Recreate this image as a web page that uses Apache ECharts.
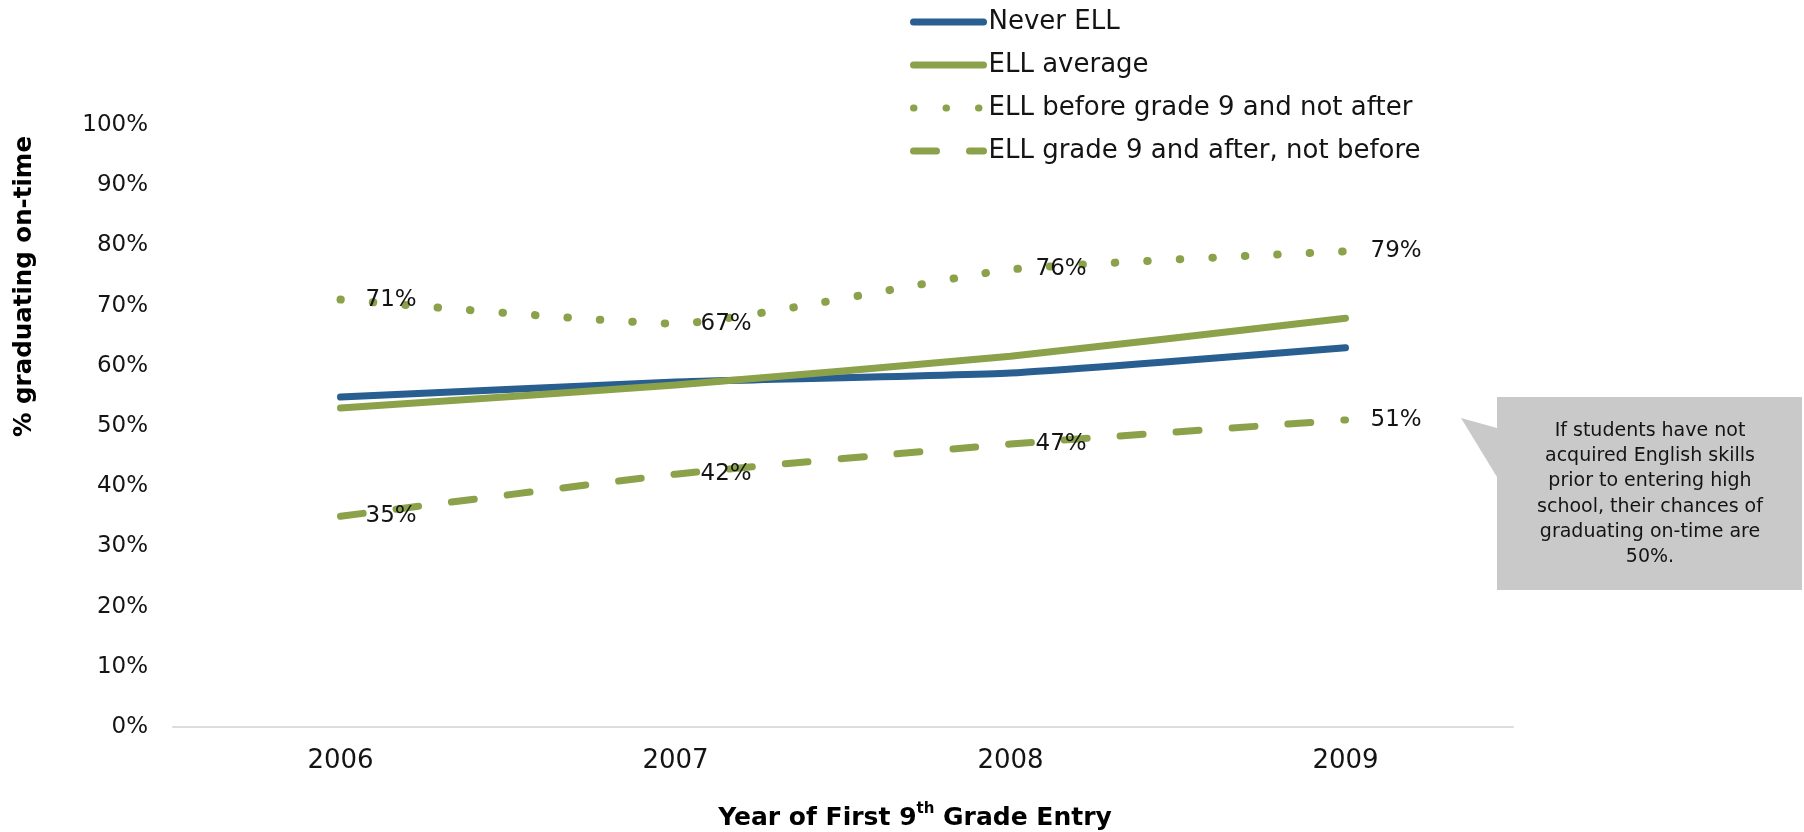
<!DOCTYPE html>
<html>
<head>
<meta charset="utf-8">
<title>On-time graduation by ELL status</title>
<script src="https://cdn.jsdelivr.net/npm/echarts@6/dist/echarts.min.js"></script>
<style>
  html, body { margin: 0; padding: 0; background: #ffffff; }
  #chart { width: 1804px; height: 832px; }
</style>
</head>
<body>
<div id="chart"></div>
<script>
// Cohort: year of first 9th grade entry
const years = ['2006', '2007', '2008', '2009'];

// % graduating on-time
const neverELL = [54.8, 57.3, 58.8, 63.0];
const ellAverage = [53.0, 56.8, 61.6, 67.9];
const ellBeforeGrade9 = [71, 67, 76, 79];
const ellGrade9AndAfter = [35, 42, 47, 51];

const seriesNames = [
  'Never ELL',
  'ELL average',
  'ELL before grade 9 and not after',
  'ELL grade 9 and after, not before'
];

const calloutText = [
  'If students have not',
  'acquired English skills',
  'prior to entering high',
  'school, their chances of',
  'graduating on-time are',
  '50%.'
];

const FONT = '"DejaVu Sans", "Liberation Sans", sans-serif';
const BLUE = '#295e91';
const GREEN = '#8ba24b';
const INK = '#141414';

const chart = echarts.init(document.getElementById('chart'), null, { renderer: 'canvas' });

const valueLabel = {
  show: true,
  position: 'right',
  distance: 25,
  formatter: '{c}%',
  color: INK,
  fontFamily: FONT,
  fontSize: 23
};

function lineSeries(name, data, style, label) {
  return {
    name: name,
    type: 'line',
    data: data,
    smooth: 0.15,
    symbol: 'circle',
    symbolSize: 0,
    itemStyle: { color: style.color },
    lineStyle: Object.assign({ cap: 'round', join: 'round' }, style),
    label: label || { show: false },
    emphasis: { disabled: true },
    animation: false
  };
}

chart.setOption({
  backgroundColor: '#ffffff',
  textStyle: { fontFamily: FONT },
  grid: { left: 173, right: 291, top: 125, bottom: 105, containLabel: false },
  legend: {
    orient: 'vertical',
    left: 910,
    top: 9,
    padding: 0,
    itemWidth: 70,
    itemHeight: 26,
    itemGap: 17,
    data: seriesNames,
    selectedMode: false,
    itemStyle: { color: 'rgba(0,0,0,0)', borderWidth: 0, opacity: 0 },
    lineStyle: { width: 7 },
    textStyle: { color: INK, fontFamily: FONT, fontSize: 26, lineHeight: 26 }
  },
  xAxis: {
    type: 'category',
    data: years,
    boundaryGap: true,
    axisLine: { show: true, lineStyle: { color: '#dcdcdc', width: 2 } },
    axisTick: { show: false },
    axisLabel: { color: INK, fontFamily: FONT, fontSize: 26, margin: 21 },
    splitLine: { show: false }
  },
  yAxis: {
    type: 'value',
    min: 0,
    max: 100,
    interval: 10,
    axisLine: { show: false },
    axisTick: { show: false },
    splitLine: { show: false },
    axisLabel: { color: INK, fontFamily: FONT, fontSize: 23, margin: 25, formatter: '{value}%' }
  },
  series: [
    lineSeries(seriesNames[0], neverELL, { color: BLUE, width: 7, type: 'solid' }),
    lineSeries(seriesNames[1], ellAverage, { color: GREEN, width: 7, type: 'solid' }),
    lineSeries(seriesNames[2], ellBeforeGrade9, { color: GREEN, width: 8, type: [0.5, 32] }, valueLabel),
    lineSeries(seriesNames[3], ellGrade9AndAfter, { color: GREEN, width: 7, type: [23, 33] }, valueLabel)
  ],
  graphic: [
    {
      type: 'text',
      left: 12,
      top: 136,
      rotation: Math.PI / 2,
      style: {
        text: '% graduating on-time',
        fill: '#000',
        font: '900 24.5px ' + FONT,
        textAlign: 'center',
        textVerticalAlign: 'middle'
      }
    },
    {
      type: 'text',
      x: 915,
      y: 818,
      style: {
        text: '{a|Year of First 9}{s|th}{a| Grade Entry}',
        align: 'center',
        verticalAlign: 'middle',
        rich: {
          a: { fontFamily: FONT, fontWeight: 'bold', fontSize: 25, lineHeight: 32, fill: '#000' },
          s: { fontFamily: FONT, fontWeight: 'bold', fontSize: 15, lineHeight: 19, verticalAlign: 'top', fill: '#000' }
        }
      }
    },
    {
      type: 'polygon',
      shape: {
        points: [[1497, 397], [1802, 397], [1802, 590], [1497, 590], [1497, 477], [1461, 418], [1497, 428]]
      },
      style: { fill: '#c9c9c9' },
      z: 1
    },
    {
      type: 'text',
      x: 1650,
      y: 494,
      z: 2,
      style: {
        text: calloutText.join('\n'),
        fill: INK,
        fontFamily: FONT,
        fontSize: 19,
        lineHeight: 25.3,
        align: 'center',
        verticalAlign: 'middle'
      }
    }
  ]
});
</script>
</body>
</html>
